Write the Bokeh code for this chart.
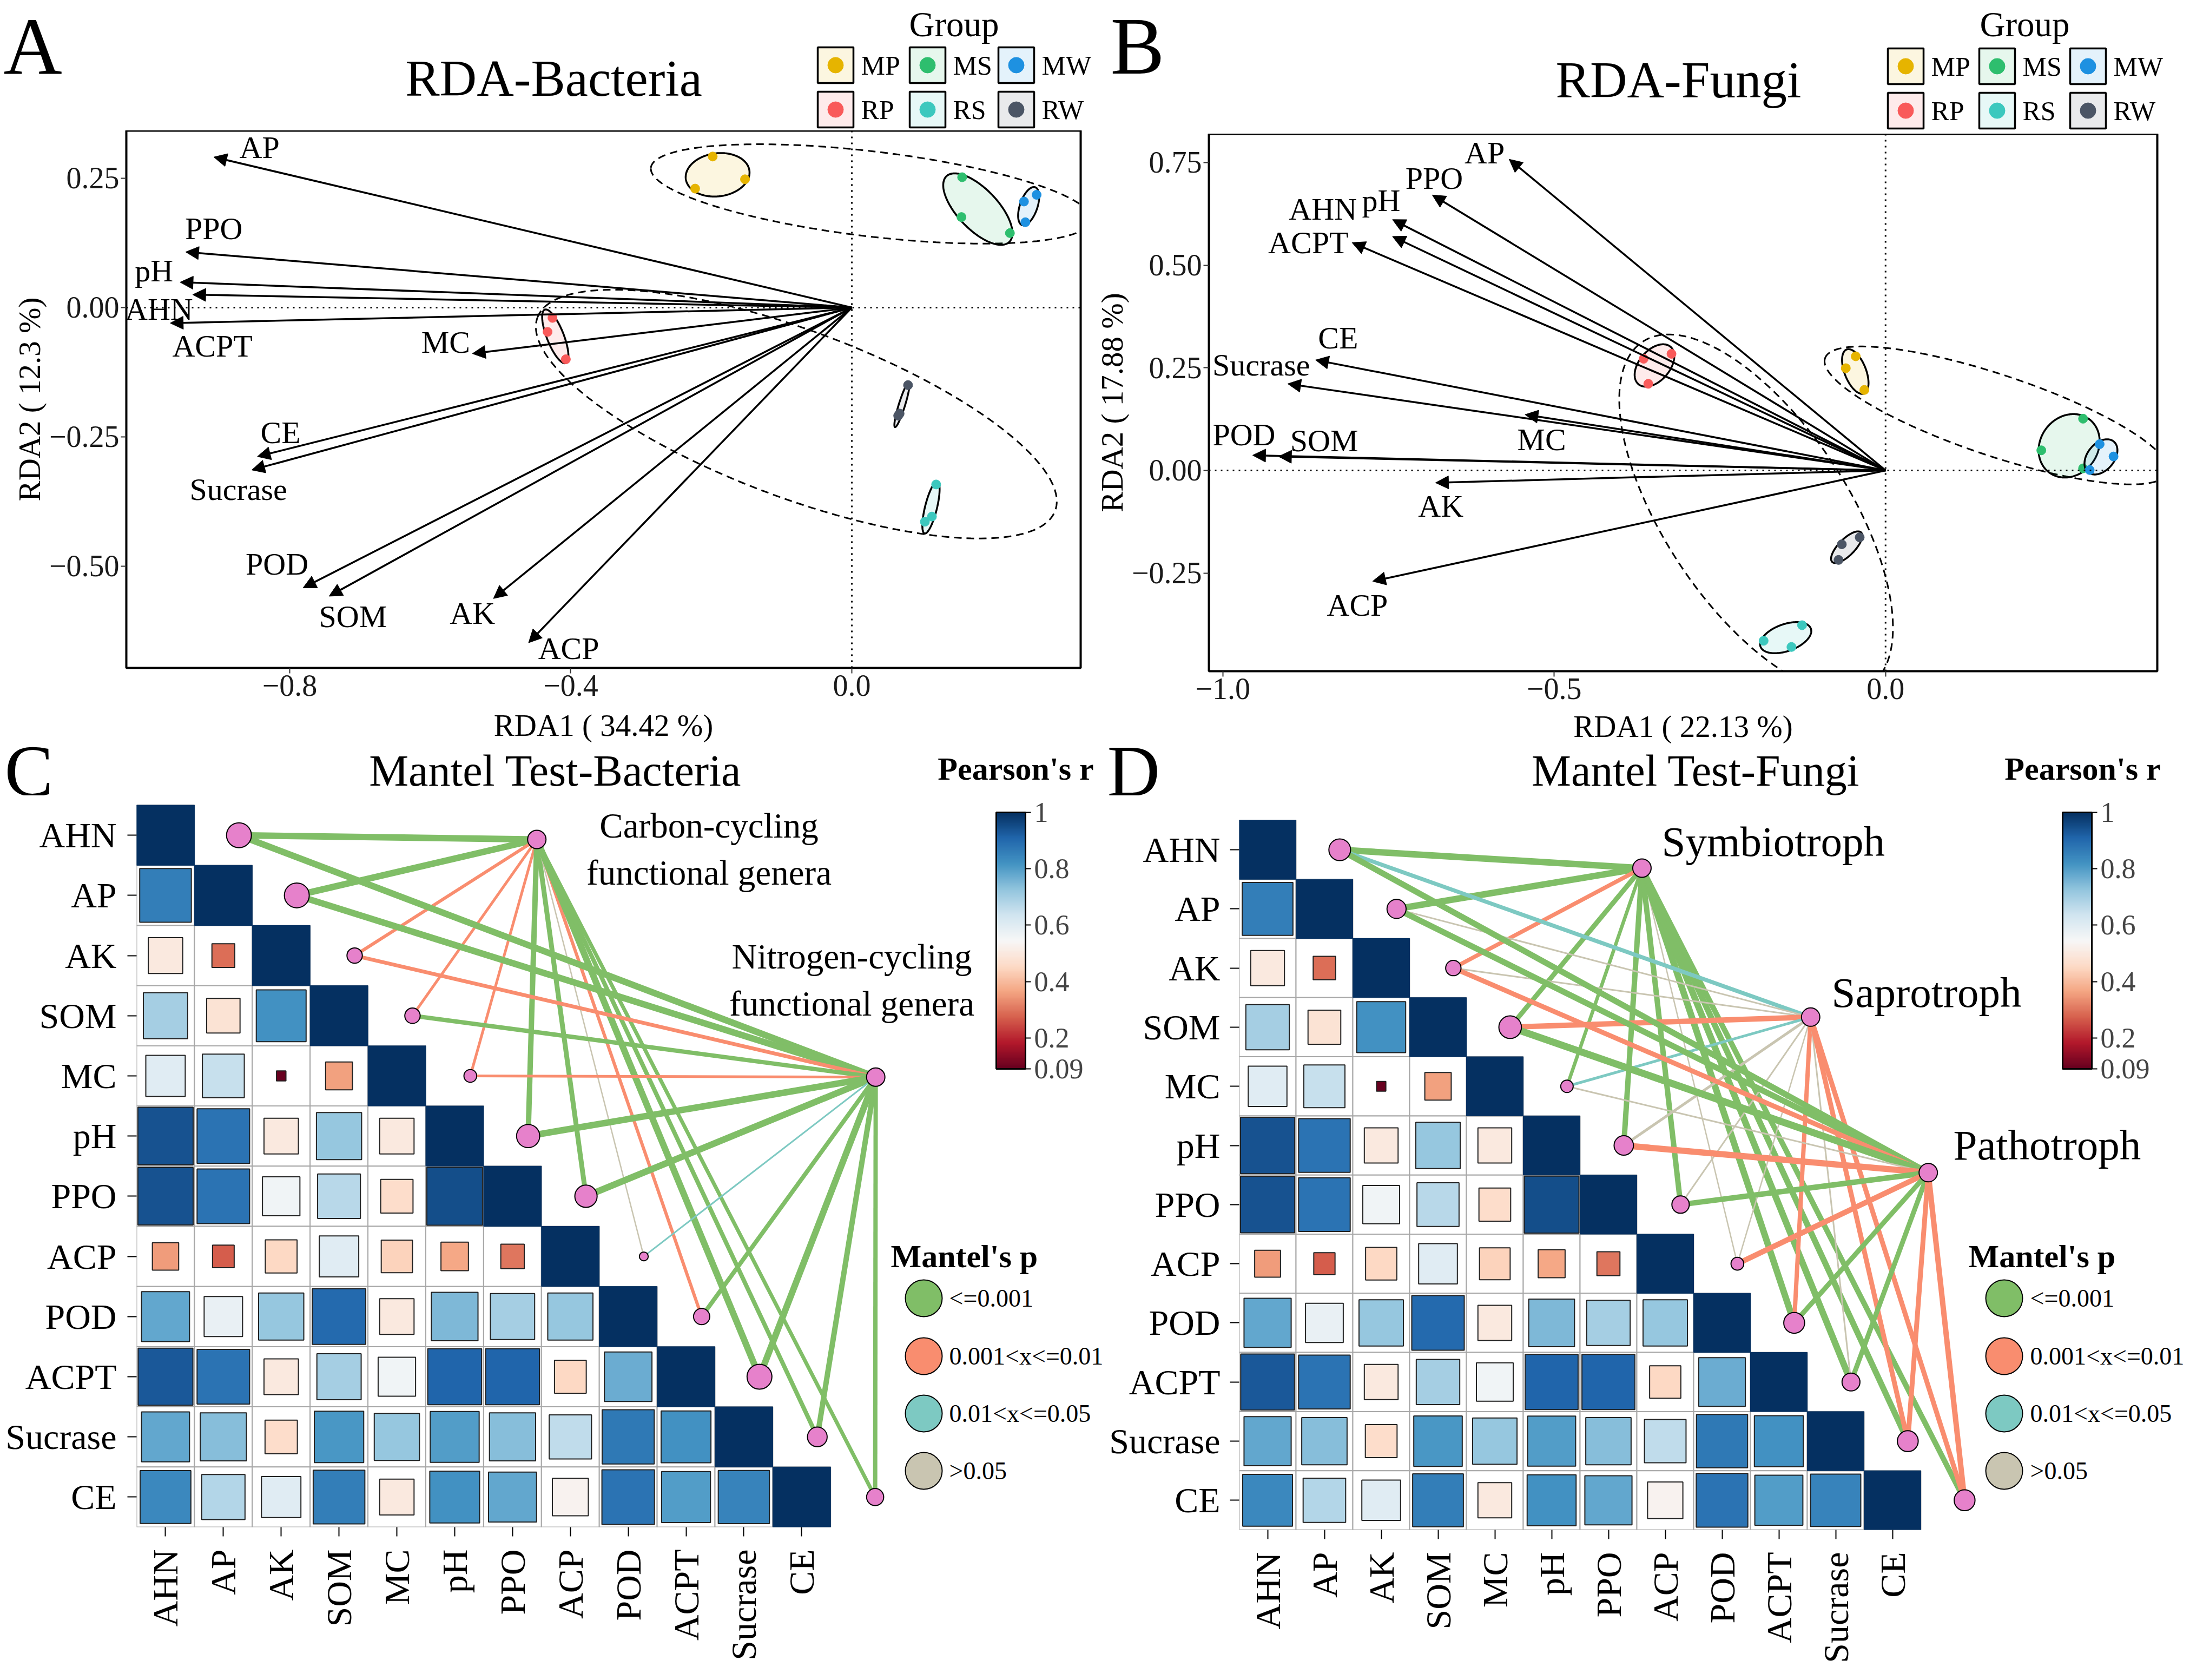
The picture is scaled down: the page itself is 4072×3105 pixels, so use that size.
import numpy as np
from bokeh.plotting import figure
from bokeh.models import (ColumnDataSource, Arrow, NormalHead, Span, Label,
                          LinearColorMapper, ColorBar, FixedTicker, Range1d)
from bokeh.layouts import row, column
from bokeh.transform import factor_cmap, transform
from bokeh.core.properties import value
from bokeh.embed import file_html
from bokeh.resources import INLINE

FONT = "Liberation Serif"

# ------------------------------------------------------------------ data
env_vars = ["AHN", "AP", "AK", "SOM", "MC", "pH", "PPO", "ACP", "POD", "ACPT", "Sucrase", "CE"]
groups = ["MP", "MS", "MW", "RP", "RS", "RW"]
group_colors = ["#E6B400", "#2EBE6E", "#1E91E1", "#F95A5A", "#3CC8BE", "#4B5565"]
group_sets = [["MP", "MS", "MW"], ["RP", "RS", "RW"]]

# RDA - Bacteria (env arrows, arrow labels, sample scores)
bac_env_x = [-0.938, -0.908, -0.510, -0.744, -0.540, -0.956, -0.948, -0.460, -0.781, -0.970, -0.854, -0.846]
bac_env_y = [0.025, 0.291, -0.5625, -0.558, -0.089, 0.049, 0.1075, -0.648, -0.542, -0.030, -0.314, -0.288]
bac_lab_x = [-0.986, -0.843, -0.540, -0.710, -0.578, -0.993, -0.908, -0.403, -0.818, -0.910, -0.873, -0.813]
bac_lab_y = [-0.003, 0.310, -0.591, -0.597, -0.067, 0.071, 0.153, -0.659, -0.496, -0.074, -0.351, -0.242]
bac_pt_x = [[-0.198, -0.223, -0.152], [0.157, 0.156, 0.225], [0.245, 0.263, 0.247],
            [-0.426, -0.433, -0.407], [0.120, 0.104, 0.114], [0.080, 0.066, 0.068]]
bac_pt_y = [[0.292, 0.230, 0.248], [0.252, 0.175, 0.144], [0.205, 0.218, 0.165],
            [-0.020, -0.047, -0.100], [-0.342, -0.414, -0.404], [-0.150, -0.209, -0.205]]
bac_axis_titles = ["RDA1 ( 34.42 %)", "RDA2 ( 12.3 %)"]
bac_xticks = [-0.8, -0.4, 0.0]
bac_xtick_labels = ["\u22120.8", "\u22120.4", "0.0"]
bac_yticks = [0.25, 0.0, -0.25, -0.5]
bac_ytick_labels = ["0.25", "0.00", "\u22120.25", "\u22120.50"]

# RDA - Fungi
fun_env_x = [-0.744, -0.568, -0.679, -0.916, -0.544, -0.744, -0.684, -0.774, -0.955, -0.805, -0.902, -0.860]
fun_env_y = [0.570, 0.758, -0.030, 0.034, 0.136, 0.611, 0.671, -0.270, 0.037, 0.555, 0.211, 0.269]
fun_lab_x = [-0.849, -0.605, -0.671, -0.847, -0.519, -0.761, -0.681, -0.797, -0.968, -0.871, -0.942, -0.826]
fun_lab_y = [0.636, 0.773, -0.087, 0.072, 0.075, 0.657, 0.711, -0.328, 0.087, 0.555, 0.257, 0.323]
fun_pt_x = [[-0.045, -0.060, -0.032], [0.298, 0.235, 0.298], [0.323, 0.344, 0.308],
            [-0.323, -0.358, -0.365], [-0.126, -0.184, -0.142], [-0.066, -0.039, -0.071]]
fun_pt_y = [[0.278, 0.249, 0.196], [0.126, 0.049, 0.005], [0.064, 0.034, 0.001],
            [0.284, 0.211, 0.272], [-0.377, -0.415, -0.430], [-0.180, -0.163, -0.218]]
fun_axis_titles = ["RDA1 ( 22.13 %)", "RDA2 ( 17.88 %)"]
fun_xticks = [-1.0, -0.5, 0.0]
fun_xtick_labels = ["\u22121.0", "\u22120.5", "0.0"]
fun_yticks = [0.75, 0.5, 0.25, 0.0, -0.25]
fun_ytick_labels = ["0.75", "0.50", "0.25", "0.00", "\u22120.25"]

# Pearson's r between environmental factors (lower triangle, row by row)
pearson_rows = [
    [],
    [0.86],
    [0.50, 0.29],
    [0.70, 0.48, 0.82],
    [0.60, 0.65, 0.09, 0.36],
    [0.94, 0.88, 0.50, 0.72, 0.50],
    [0.94, 0.88, 0.56, 0.67, 0.46, 0.95],
    [0.35, 0.27, 0.45, 0.60, 0.44, 0.37, 0.30],
    [0.78, 0.58, 0.72, 0.90, 0.50, 0.75, 0.70, 0.72],
    [0.93, 0.88, 0.50, 0.70, 0.56, 0.91, 0.91, 0.45, 0.77],
    [0.78, 0.74, 0.46, 0.81, 0.72, 0.80, 0.74, 0.66, 0.87, 0.82],
    [0.84, 0.68, 0.60, 0.86, 0.50, 0.82, 0.78, 0.53, 0.88, 0.80, 0.85],
]
r_low, r_high = 0.09, 1.0
cbar_ticks = [0.09, 0.2, 0.4, 0.6, 0.8, 1.0]
cbar_tick_labels = ["0.09", "0.2", "0.4", "0.6", "0.8", "1"]

# Mantel tests
p_levels = ["<=0.001", "0.001<x<=0.01", "0.01<x<=0.05", ">0.05"]
p_colors = ["#80BE67", "#F98D6F", "#7DC9C2", "#C9C5B1"]

bac_specs = ["Carbon-cycling\nfunctional genera", "Nitrogen-cycling\nfunctional genera"]
bac_spec_x = [7.42, 13.28]
bac_spec_y = [11.93, 7.98]
bac_mantel_p = [[0, 0, 1, 1, 1, 0, 0, 3, 1, 0, 0, 0],
                [0, 0, 1, 0, 1, 0, 0, 2, 0, 0, 0, 0]]
bac_mantel_r = [[0.40, 0.40, 0.16, 0.12, 0.12, 0.32, 0.28, 0.02, 0.16, 0.40, 0.24, 0.20],
                [0.40, 0.40, 0.20, 0.24, 0.12, 0.40, 0.40, 0.04, 0.24, 0.40, 0.32, 0.24]]

fun_specs = ["Symbiotroph", "Saprotroph", "Pathotroph"]
fun_spec_x = [7.59, 10.56, 12.63]
fun_spec_y = [11.69, 9.17, 6.54]
fun_mantel_p = [[0, 0, 1, 0, 0, 0, 0, 3, 0, 0, 0, 0],
                [2, 3, 3, 1, 2, 3, 3, 3, 1, 3, 1, 1],
                [0, 0, 1, 0, 3, 1, 0, 1, 0, 0, 1, 1]]
fun_mantel_r = [[0.40, 0.40, 0.22, 0.28, 0.18, 0.32, 0.32, 0.02, 0.40, 0.40, 0.36, 0.32],
                [0.22, 0.04, 0.04, 0.32, 0.12, 0.12, 0.04, 0.02, 0.24, 0.04, 0.28, 0.28],
                [0.36, 0.36, 0.28, 0.44, 0.04, 0.38, 0.32, 0.32, 0.28, 0.28, 0.28, 0.32]]

# ------------------------------------------------------------------ helpers
def interp_palette(cols, n=256):
    rgb = np.array([[int(c[i:i + 2], 16) for i in (1, 3, 5)] for c in cols], float)
    t = np.linspace(0, 1, len(cols))
    out = []
    for v in np.linspace(0, 1, n):
        out.append("#%02x%02x%02x" % tuple(int(round(np.interp(v, t, rgb[:, k]))) for k in range(3)))
    return out

RDBU = ["#67001f", "#b2182b", "#d6604d", "#f4a582", "#fddbc7", "#f7f7f7",
        "#d1e5f0", "#92c5de", "#4393c3", "#2166ac", "#053061"]
mapper = LinearColorMapper(palette=interp_palette(RDBU), low=r_low, high=r_high)


def frame_conv(fx, fy, fw, fh, xr, yr):
    """full-page pixel -> data, for a frame whose top-left corner is at (fx, fy)"""
    def cx(px):
        return xr[0] + (px - fx) / fw * (xr[1] - xr[0])

    def cy(py):
        return yr[1] - (py - fy) / fh * (yr[1] - yr[0])
    return cx, cy


def mvee(P, tol=1e-2, it=20000):
    P = np.asarray(P, float)
    N, d = P.shape
    Q = np.vstack([P.T, np.ones(N)])
    u = np.full(N, 1.0 / N)
    for _ in range(it):
        X = Q @ np.diag(u) @ Q.T
        M = np.einsum('ij,ji->i', Q.T @ np.linalg.inv(X), Q)
        j = int(np.argmax(M))
        step = (M[j] - d - 1.0) / ((d + 1.0) * (M[j] - 1.0))
        nu = (1 - step) * u
        nu[j] += step
        done = np.linalg.norm(nu - u) < tol
        u = nu
        if done:
            break
    c = P.T @ u
    A = np.linalg.inv(P.T @ np.diag(u) @ P - np.outer(c, c)) / d
    Pc = P - c
    m = np.max(np.einsum('ij,jk,ik->i', Pc, A, Pc))
    return c, A / max(m, 1.0)


def ellipse_data(xs, ys, sx, sy, expand, n=240):
    P = np.column_stack([np.asarray(xs) * sx, np.asarray(ys) * sy])
    c, A = mvee(P)
    w, V = np.linalg.eigh(A)
    axes = 1.0 / np.sqrt(w) + expand
    t = np.linspace(0, 2 * np.pi, n)
    E = (V @ np.vstack([axes[0] * np.cos(t), axes[1] * np.sin(t)])).T + c
    return list(E[:, 0] / sx), list(E[:, 1] / sy)


def style_axis(ax, size):
    ax.axis_line_color = None
    ax.minor_tick_line_color = None
    ax.major_tick_in = 0
    ax.major_label_text_font = FONT
    ax.major_label_text_font_size = size
    ax.major_label_text_color = "#1a1a1a"
    ax.major_tick_line_color = "#333333"
    ax.major_tick_line_width = 2


def lbl(p, x, y, text, size, align="center", bold=False):
    """text whose visual centre line is at y"""
    p.add_layout(Label(x=x, y=y, text=text, text_font=FONT, text_font_size=size,
                       text_align=align, text_baseline="middle",
                       text_font_style="bold" if bold else "normal", text_color="black"))


def header(ox, oy, w, h):
    """strip above a panel; its frame fills it and its ranges are page pixels"""
    p = figure(width=w, height=h, x_range=Range1d(ox, ox + w), y_range=Range1d(oy + h, oy),
               output_backend="svg", toolbar_location=None, title=None, min_border=0,
               x_axis_type=None, y_axis_type=None, frame_align=False)
    p.outline_line_color = None
    p.grid.visible = False
    return p


# ------------------------------------------------------------------ RDA panels
def rda_panel(ox, oy, hdr_h, fl, fr, fw, fh, fb, xr, yr, env_x, env_y, lab_x, lab_y, pt_x, pt_y,
              axis_titles, xticks, xlabels, yticks, ylabels, letter, title, letter_x,
              title_x, title_y, group_x, key_x, key_rows, hdr_w, xlab_standoff):
    # header with panel letter, title and the group legend
    h = header(ox, oy, hdr_w, hdr_h)
    lbl(h, letter_x, 92, letter, "150px", align="left")
    lbl(h, title_x, title_y, title, "95px")
    lbl(h, group_x, 52, "Group", "65px")
    kx = [key_x[k % 3] for k in range(len(groups))]
    ky = [key_rows[k // 3] for k in range(len(groups))]
    h.rect(x=[v + 33 for v in kx], y=ky, width=66, height=66, fill_color=group_colors,
           fill_alpha=0.12, line_color="black", line_width=3.5)
    h.scatter(x=[v + 33 for v in kx], y=ky, size=29, fill_color=group_colors, line_color=group_colors)
    h.text(x=[v + 80 for v in kx], y=ky, text=groups, text_font=value(FONT), text_font_size="50px",
           text_align="left", text_baseline="middle", text_color="black")

    p = figure(width=fl + fw + fr, height=fh + fb, x_range=Range1d(*xr), y_range=Range1d(*yr),
               output_backend="svg", toolbar_location=None, title=None, frame_align=False,
               min_border_left=fl, min_border_right=fr, min_border_top=0, min_border_bottom=fb)
    p.xgrid.visible = False
    p.ygrid.visible = False
    p.outline_line_color = "black"
    p.outline_line_width = 4
    p.xaxis.ticker = FixedTicker(ticks=xticks)
    p.xaxis.major_label_overrides = dict(zip(xticks, xlabels))
    p.yaxis.ticker = FixedTicker(ticks=yticks)
    p.yaxis.major_label_overrides = dict(zip(yticks, ylabels))
    for ax, t in ((p.xaxis[0], axis_titles[0]), (p.yaxis[0], axis_titles[1])):
        style_axis(ax, "56px")
        ax.major_tick_out = 10
        ax.major_label_standoff = 3
        ax.axis_label = t
        ax.axis_label_text_font = FONT
        ax.axis_label_text_font_size = "57px"
        ax.axis_label_text_font_style = "normal"
        ax.axis_label_text_color = "black"
        ax.axis_label_standoff = 2
    p.xaxis.axis_label_standoff = xlab_standoff

    sx = fw / (xr[1] - xr[0])
    sy = fh / (yr[1] - yr[0])

    p.add_layout(Span(location=0, dimension="height", line_color="black", line_width=3, line_dash="3 8"))
    p.add_layout(Span(location=0, dimension="width", line_color="black", line_width=3, line_dash="3 8"))

    for gset in group_sets:
        xs, ys = [], []
        for g in gset:
            k = groups.index(g)
            xs += pt_x[k]
            ys += pt_y[k]
        ex, ey = ellipse_data(xs, ys, sx, sy, 22)
        p.line(ex, ey, line_color="black", line_width=3, line_dash="14 9")

    src = ColumnDataSource(dict(x0=[0.0] * len(env_x), y0=[0.0] * len(env_x), x1=env_x, y1=env_y))
    p.add_layout(Arrow(end=NormalHead(size=24, fill_color="black", line_color="black", line_width=1),
                       x_start="x0", y_start="y0", x_end="x1", y_end="y1", source=src,
                       line_width=3.5, line_color="black"))
    p.text(x=lab_x, y=lab_y, text=env_vars, text_font=value(FONT), text_font_size="58px",
           text_align="center", text_baseline="middle", text_color="black")

    for k, g in enumerate(groups):
        ex, ey = ellipse_data(pt_x[k], pt_y[k], sx, sy, 5)
        p.patch(ex, ey, fill_color=group_colors[k], fill_alpha=0.12, line_color="black", line_width=3.5)
        p.scatter(pt_x[k], pt_y[k], size=17, fill_color=group_colors[k],
                  line_color=group_colors[k], line_width=1)
    return column(h, p)


ROW2_TOP = 1386
HDR2_H = 92

colA = rda_panel(8, 8, 241, 233, 23, 1764, 993, ROW2_TOP - 1242, (-1.0325, 0.3257), (-0.6967, 0.342),
                 bac_env_x, bac_env_y, bac_lab_x, bac_lab_y, bac_pt_x, bac_pt_y,
                 bac_axis_titles, bac_xticks, bac_xtick_labels, bac_yticks, bac_ytick_labels,
                 "A", "RDA-Bacteria", 14, 1031, 152, 1771, [1519, 1689, 1853], [128, 210], 2020, 20)
colB = rda_panel(2028, 8, 247, 201, 61, 1766, 993, ROW2_TOP - 1248, (-1.021, 0.410), (-0.489, 0.8197),
                 fun_env_x, fun_env_y, fun_lab_x, fun_lab_y, fun_pt_x, fun_pt_y,
                 fun_axis_titles, fun_xticks, fun_xtick_labels, fun_yticks, fun_ytick_labels,
                 "B", "RDA-Fungi", 2060, 3110, 155, 3750, [3497, 3666, 3834], [130, 212], 2028, 16)


# ------------------------------------------------------------------ Mantel panels
NODE_OFF = 1.27
PINK = "#E681CB"
CBAR_TOP, CBAR_BOTTOM = 1509, 1983


def mantel_panel(ox, W, fl, fb, cell_w, cell_h, heat_bottom, specs, spec_x, spec_y, m_p, m_r,
                 spec_label_pos, spec_align, letter, letter_x, title, title_x, cbar_x, pear_x,
                 leg_title_x, leg_circ_x, leg_text_x, ystand):
    h = header(ox, ROW2_TOP, W, HDR2_H)
    lbl(h, letter_x, 1433, letter, "135px", align="left")
    lbl(h, title_x, 1432, title, "82px")
    lbl(h, pear_x, 1428, "Pearson's r", "60px", bold=True)

    ftop = ROW2_TOP + HDR2_H
    fx = ox + fl
    fw = W - fl
    fh = heat_bottom - ftop
    xr = (0.5, 0.5 + fw / cell_w)
    yr = (0.5, 0.5 + fh / cell_h)
    p = figure(width=W, height=fh + fb, x_range=Range1d(*xr), y_range=Range1d(*yr),
               output_backend="svg", toolbar_location=None, title=None, frame_align=False,
               min_border_left=fl, min_border_right=0, min_border_top=0, min_border_bottom=fb)
    p.xgrid.visible = False
    p.ygrid.visible = False
    p.outline_line_color = None
    cx, cy = frame_conv(fx, ftop, fw, fh, xr, yr)

    n = len(env_vars)
    p.xaxis.ticker = FixedTicker(ticks=list(range(1, n + 1)))
    p.xaxis.major_label_overrides = {i + 1: v for i, v in enumerate(env_vars)}
    p.yaxis.ticker = FixedTicker(ticks=list(range(1, n + 1)))
    p.yaxis.major_label_overrides = {n - i: v for i, v in enumerate(env_vars)}
    for ax in (p.xaxis[0], p.yaxis[0]):
        style_axis(ax, "66px")
        ax.major_label_text_color = "black"
        ax.major_tick_line_color = "black"
        ax.major_tick_out = 17
    p.yaxis.major_label_standoff = ystand
    p.xaxis.major_label_standoff = 24
    p.xaxis.major_label_orientation = np.pi / 2

    gx, gy, gr, gs, dx, dy = [], [], [], [], [], []
    for i in range(n):
        for j in range(i):
            r = pearson_rows[i][j]
            gx.append(j + 1); gy.append(n - i); gr.append(r); gs.append(r ** 0.75)
        dx.append(i + 1); dy.append(n - i)
    p.rect(x=gx + dx, y=gy + dy, width=1, height=1, fill_color="white",
           line_color="#A8A8A8", line_width=2)
    dsrc = ColumnDataSource(dict(x=dx, y=dy, r=[1.0] * n))
    p.rect(x="x", y="y", width=1, height=1, source=dsrc, fill_color=transform("r", mapper),
           line_color=transform("r", mapper), line_width=1)
    osrc = ColumnDataSource(dict(x=gx, y=gy, r=gr, s=gs))
    p.rect(x="x", y="y", width="s", height="s", source=osrc, fill_color=transform("r", mapper),
           line_color="#222222", line_width=2)

    lx0, ly0, lx1, ly1, lp, lw = [], [], [], [], [], []
    for k in range(len(specs)):
        for i in range(n):
            lx0.append(spec_x[k]); ly0.append(spec_y[k])
            lx1.append(i + 1 + NODE_OFF); ly1.append(n - i)
            lp.append(p_levels[m_p[k][i]])
            lw.append(2 + 25 * m_r[k][i])
    lsrc = ColumnDataSource(dict(x0=lx0, y0=ly0, x1=lx1, y1=ly1, p=lp, w=lw))
    p.segment(x0="x0", y0="y0", x1="x1", y1="y1", source=lsrc,
              line_color=factor_cmap("p", p_colors, p_levels), line_width="w")

    mean_r = np.mean(np.array(m_r), axis=0)
    p.scatter(x=[i + 1 + NODE_OFF for i in range(n)], y=[n - i for i in range(n)],
              size=list(14 + 80 * mean_r), fill_color=PINK, line_color="black", line_width=2)
    p.scatter(x=spec_x, y=spec_y, size=34, fill_color=PINK, line_color="black", line_width=2)

    for k, s in enumerate(specs):
        px, py = spec_label_pos[k]
        lbl(p, cx(px), cy(py), s, spec_align[1], align=spec_align[0])

    cb = ColorBar(color_mapper=mapper, ticker=FixedTicker(ticks=cbar_ticks),
                  major_label_overrides=dict(zip(cbar_ticks, cbar_tick_labels)),
                  width=54, height=CBAR_BOTTOM - CBAR_TOP,
                  location=(cbar_x - fx, heat_bottom - CBAR_BOTTOM), padding=0, margin=0,
                  bar_line_color="black", bar_line_width=3, major_tick_in=0, major_tick_out=10,
                  major_tick_line_color="black", major_tick_line_width=2,
                  major_label_text_font=FONT, major_label_text_font_size="52px",
                  label_standoff=6, background_fill_alpha=0, border_line_color=None)
    p.add_layout(cb)

    lbl(p, cx(leg_title_x), cy(2329), "Mantel's p", "60px", align="left", bold=True)
    ly = [2407, 2514, 2620, 2726]
    p.scatter(x=[cx(leg_circ_x)] * 4, y=[cy(v) for v in ly], size=68, fill_color=p_colors,
              line_color="black", line_width=2)
    p.text(x=[cx(leg_text_x)] * 4, y=[cy(v) for v in ly], text=p_levels, text_font=value(FONT),
           text_font_size="46px", text_align="left", text_baseline="middle", text_color="black")
    return column(h, p)


colC = mantel_panel(8, 2040, 252, 267, 106.9, 111.2, 2830, bac_specs, bac_spec_x, bac_spec_y,
                    bac_mantel_p, bac_mantel_r, [(1318, 1577), (1582, 1819)], ("center", "65px"),
                    "C", 16, "Mantel Test-Bacteria", 1034, 1849, 1885, 1654, 1715, 1762, 20)
colD = mantel_panel(2048, 2016, 250, 262, 105.0, 109.3, 2835, fun_specs, fun_spec_x, fun_spec_y,
                    fun_mantel_p, fun_mantel_r, [(3079, 1563), (3393, 1842), (3618, 2124)], ("left", "79px"),
                    "D", 2054, "Mantel Test-Fungi", 3142, 3820, 3857, 3646, 3712, 3760, 18)

layout = column(row(colA, colB), row(colC, colD))
open("out.html", "w").write(file_html(layout, INLINE, "RDA and Mantel"))
